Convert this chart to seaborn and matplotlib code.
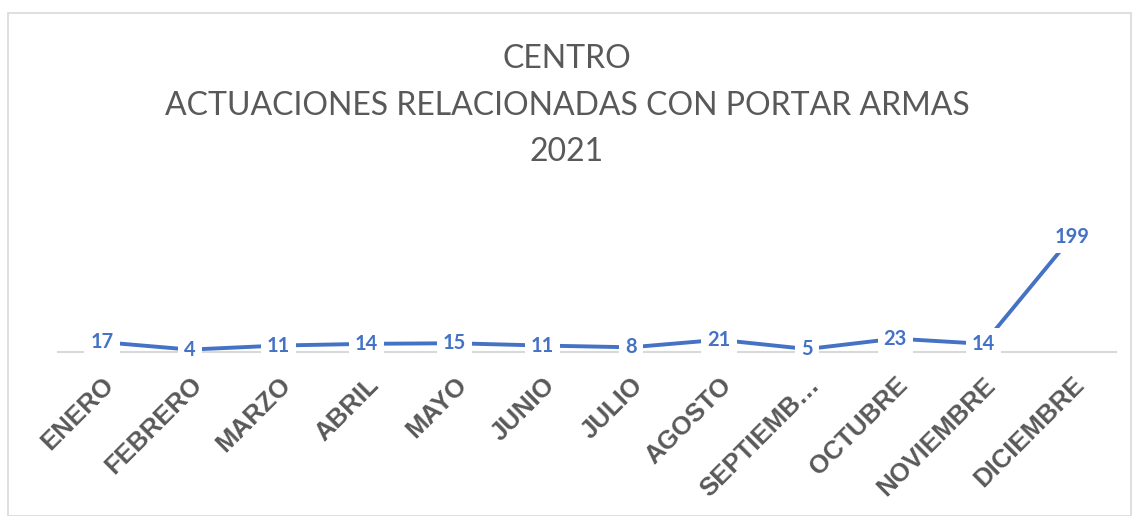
import matplotlib
matplotlib.use("Agg")
import matplotlib.pyplot as plt
import seaborn as sns
import pandas as pd
from matplotlib.patches import Rectangle

meses = ["ENERO", "FEBRERO", "MARZO", "ABRIL", "MAYO", "JUNIO", "JULIO",
         "AGOSTO", "SEPTIEMB…", "OCTUBRE", "NOVIEMBRE", "DICIEMBRE"]
actuaciones = [17, 4, 11, 14, 15, 11, 8, 21, 5, 23, 14, 199]

titulo = "CENTRO\nACTUACIONES RELACIONADAS CON PORTAR ARMAS\n2021"

azul = "#4472C4"
gris = "#595959"

sns.set_style("white")
plt.rcParams["font.family"] = ["Lato", "DejaVu Sans"]

df = pd.DataFrame({"mes": meses, "valor": actuaciones})

fig = plt.figure(figsize=(11.34, 5.16), dpi=100)
ax = fig.add_axes([0.051, 0.318, 0.933, 0.28])

sns.lineplot(data=df, x="mes", y="valor", sort=False, color=azul,
             linewidth=2.8, ax=ax)

for i, v in enumerate(actuaciones):
    ax.annotate(str(v), (i, v), ha="center", va="center", fontsize=14.5,
                fontweight="bold", color=azul,
                bbox=dict(boxstyle="square,pad=0.3", fc="white", ec="none"))

ax.set_xlim(-0.5, len(meses) - 0.5)
ax.set_ylim(0, 199 * 0.28 * 516 / 115)
ax.set_xlabel("")
ax.set_ylabel("")
ax.set_yticks([])
ax.tick_params(axis="x", length=0, pad=15)
ax.set_xticks(range(len(meses)))
ax.set_xticklabels(meses, rotation=45, ha="right", rotation_mode="anchor",
                   fontsize=18.5, fontweight="bold", color=gris,
                   family=["Liberation Sans", "DejaVu Sans"])
for s in ["top", "left", "right"]:
    ax.spines[s].set_visible(False)
ax.spines["bottom"].set_color("#D9D9D9")
ax.spines["bottom"].set_linewidth(1.5)
ax.spines["bottom"].set_zorder(0)

fig.text(0.5, 0.914, titulo, ha="center", va="top", fontsize=23,
         color=gris, linespacing=1.68)

fig.patches.append(Rectangle((0.007, 0.0), 0.99, 0.975, transform=fig.transFigure,
                             fill=False, ec="#D9D9D9", lw=1.2))

fig.savefig("out.png", dpi=100)
